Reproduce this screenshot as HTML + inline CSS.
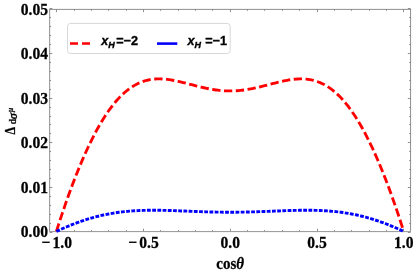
<!DOCTYPE html>
<html><head><meta charset="utf-8"><title>plot</title>
<style>
html,body{margin:0;padding:0;background:#fff;}
body{width:413px;height:273px;overflow:hidden;}
svg{display:block;will-change:transform;}
.t text{font-family:"Liberation Serif",serif;font-weight:bold;font-size:15.6px;fill:#000;stroke:#000;stroke-width:0.25px;}
.lg{font-family:"Liberation Sans",sans-serif;font-weight:bold;font-size:12.6px;fill:#000;stroke:#000;stroke-width:0.35px;}
</style></head><body>
<svg width="413" height="273" viewBox="0 0 413 273">
<rect x="0" y="0" width="413" height="273" fill="#fff"/>
<g stroke="#858585" stroke-width="0.9" fill="none">
<line x1="56.50" y1="231.4" x2="56.50" y2="228.70"/>
<line x1="56.50" y1="9.4" x2="56.50" y2="12.10"/>
<line x1="74.50" y1="231.4" x2="74.50" y2="230.00"/>
<line x1="74.50" y1="9.4" x2="74.50" y2="10.80"/>
<line x1="91.50" y1="231.4" x2="91.50" y2="230.00"/>
<line x1="91.50" y1="9.4" x2="91.50" y2="10.80"/>
<line x1="108.50" y1="231.4" x2="108.50" y2="230.00"/>
<line x1="108.50" y1="9.4" x2="108.50" y2="10.80"/>
<line x1="126.50" y1="231.4" x2="126.50" y2="230.00"/>
<line x1="126.50" y1="9.4" x2="126.50" y2="10.80"/>
<line x1="143.50" y1="231.4" x2="143.50" y2="228.70"/>
<line x1="143.50" y1="9.4" x2="143.50" y2="12.10"/>
<line x1="160.50" y1="231.4" x2="160.50" y2="230.00"/>
<line x1="160.50" y1="9.4" x2="160.50" y2="10.80"/>
<line x1="178.50" y1="231.4" x2="178.50" y2="230.00"/>
<line x1="178.50" y1="9.4" x2="178.50" y2="10.80"/>
<line x1="195.50" y1="231.4" x2="195.50" y2="230.00"/>
<line x1="195.50" y1="9.4" x2="195.50" y2="10.80"/>
<line x1="212.50" y1="231.4" x2="212.50" y2="230.00"/>
<line x1="212.50" y1="9.4" x2="212.50" y2="10.80"/>
<line x1="230.50" y1="231.4" x2="230.50" y2="228.70"/>
<line x1="230.50" y1="9.4" x2="230.50" y2="12.10"/>
<line x1="247.50" y1="231.4" x2="247.50" y2="230.00"/>
<line x1="247.50" y1="9.4" x2="247.50" y2="10.80"/>
<line x1="264.50" y1="231.4" x2="264.50" y2="230.00"/>
<line x1="264.50" y1="9.4" x2="264.50" y2="10.80"/>
<line x1="282.50" y1="231.4" x2="282.50" y2="230.00"/>
<line x1="282.50" y1="9.4" x2="282.50" y2="10.80"/>
<line x1="299.50" y1="231.4" x2="299.50" y2="230.00"/>
<line x1="299.50" y1="9.4" x2="299.50" y2="10.80"/>
<line x1="317.50" y1="231.4" x2="317.50" y2="228.70"/>
<line x1="317.50" y1="9.4" x2="317.50" y2="12.10"/>
<line x1="334.50" y1="231.4" x2="334.50" y2="230.00"/>
<line x1="334.50" y1="9.4" x2="334.50" y2="10.80"/>
<line x1="351.50" y1="231.4" x2="351.50" y2="230.00"/>
<line x1="351.50" y1="9.4" x2="351.50" y2="10.80"/>
<line x1="369.50" y1="231.4" x2="369.50" y2="230.00"/>
<line x1="369.50" y1="9.4" x2="369.50" y2="10.80"/>
<line x1="386.50" y1="231.4" x2="386.50" y2="230.00"/>
<line x1="386.50" y1="9.4" x2="386.50" y2="10.80"/>
<line x1="403.50" y1="231.4" x2="403.50" y2="228.70"/>
<line x1="403.50" y1="9.4" x2="403.50" y2="12.10"/>
<line x1="49.65" y1="232.50" x2="52.35" y2="232.50"/>
<line x1="410.55" y1="232.50" x2="407.85" y2="232.50"/>
<line x1="49.65" y1="223.50" x2="51.05" y2="223.50"/>
<line x1="410.55" y1="223.50" x2="409.15" y2="223.50"/>
<line x1="49.65" y1="214.50" x2="51.05" y2="214.50"/>
<line x1="410.55" y1="214.50" x2="409.15" y2="214.50"/>
<line x1="49.65" y1="205.50" x2="51.05" y2="205.50"/>
<line x1="410.55" y1="205.50" x2="409.15" y2="205.50"/>
<line x1="49.65" y1="196.50" x2="51.05" y2="196.50"/>
<line x1="410.55" y1="196.50" x2="409.15" y2="196.50"/>
<line x1="49.65" y1="187.50" x2="52.35" y2="187.50"/>
<line x1="410.55" y1="187.50" x2="407.85" y2="187.50"/>
<line x1="49.65" y1="178.50" x2="51.05" y2="178.50"/>
<line x1="410.55" y1="178.50" x2="409.15" y2="178.50"/>
<line x1="49.65" y1="169.50" x2="51.05" y2="169.50"/>
<line x1="410.55" y1="169.50" x2="409.15" y2="169.50"/>
<line x1="49.65" y1="160.50" x2="51.05" y2="160.50"/>
<line x1="410.55" y1="160.50" x2="409.15" y2="160.50"/>
<line x1="49.65" y1="151.50" x2="51.05" y2="151.50"/>
<line x1="410.55" y1="151.50" x2="409.15" y2="151.50"/>
<line x1="49.65" y1="142.50" x2="52.35" y2="142.50"/>
<line x1="410.55" y1="142.50" x2="407.85" y2="142.50"/>
<line x1="49.65" y1="133.50" x2="51.05" y2="133.50"/>
<line x1="410.55" y1="133.50" x2="409.15" y2="133.50"/>
<line x1="49.65" y1="124.50" x2="51.05" y2="124.50"/>
<line x1="410.55" y1="124.50" x2="409.15" y2="124.50"/>
<line x1="49.65" y1="116.50" x2="51.05" y2="116.50"/>
<line x1="410.55" y1="116.50" x2="409.15" y2="116.50"/>
<line x1="49.65" y1="107.50" x2="51.05" y2="107.50"/>
<line x1="410.55" y1="107.50" x2="409.15" y2="107.50"/>
<line x1="49.65" y1="98.50" x2="52.35" y2="98.50"/>
<line x1="410.55" y1="98.50" x2="407.85" y2="98.50"/>
<line x1="49.65" y1="89.50" x2="51.05" y2="89.50"/>
<line x1="410.55" y1="89.50" x2="409.15" y2="89.50"/>
<line x1="49.65" y1="80.50" x2="51.05" y2="80.50"/>
<line x1="410.55" y1="80.50" x2="409.15" y2="80.50"/>
<line x1="49.65" y1="71.50" x2="51.05" y2="71.50"/>
<line x1="410.55" y1="71.50" x2="409.15" y2="71.50"/>
<line x1="49.65" y1="62.50" x2="51.05" y2="62.50"/>
<line x1="410.55" y1="62.50" x2="409.15" y2="62.50"/>
<line x1="49.65" y1="53.50" x2="52.35" y2="53.50"/>
<line x1="410.55" y1="53.50" x2="407.85" y2="53.50"/>
<line x1="49.65" y1="44.50" x2="51.05" y2="44.50"/>
<line x1="410.55" y1="44.50" x2="409.15" y2="44.50"/>
<line x1="49.65" y1="35.50" x2="51.05" y2="35.50"/>
<line x1="410.55" y1="35.50" x2="409.15" y2="35.50"/>
<line x1="49.65" y1="26.50" x2="51.05" y2="26.50"/>
<line x1="410.55" y1="26.50" x2="409.15" y2="26.50"/>
<line x1="49.65" y1="17.50" x2="51.05" y2="17.50"/>
<line x1="410.55" y1="17.50" x2="409.15" y2="17.50"/>
<line x1="49.65" y1="8.50" x2="52.35" y2="8.50"/>
<line x1="410.55" y1="8.50" x2="407.85" y2="8.50"/>
</g>
<g stroke="#727272" stroke-width="0.8" fill="none"><path d="M49.15,9.4 H411.05"/><path d="M49.65,9.4 V231.4"/><path d="M410.55,9.4 V231.4"/><path d="M49.25,231.6 H410.95" stroke="#969696" stroke-width="1"/></g>
<path d="M56.40,231.40 L58.14,225.94 L59.87,220.59 L61.61,215.33 L63.34,210.17 L65.08,205.11 L66.81,200.15 L68.55,195.28 L70.28,190.52 L72.02,185.85 L73.75,181.27 L75.49,176.80 L77.22,172.42 L78.96,168.15 L80.69,163.97 L82.43,159.89 L84.16,155.91 L85.90,152.03 L87.63,148.26 L89.37,144.59 L91.10,141.02 L92.84,137.55 L94.57,134.19 L96.31,130.93 L98.04,127.77 L99.78,124.73 L101.52,121.78 L103.25,118.94 L104.99,116.21 L106.72,113.58 L108.46,111.06 L110.19,108.64 L111.93,106.33 L113.66,104.12 L115.40,102.01 L117.13,100.01 L118.87,98.11 L120.60,96.31 L122.34,94.60 L124.07,93.00 L125.81,91.50 L127.54,90.09 L129.28,88.77 L131.01,87.55 L132.75,86.42 L134.48,85.37 L136.22,84.42 L137.95,83.55 L139.69,82.76 L141.42,82.05 L143.16,81.43 L144.90,80.87 L146.63,80.40 L148.37,79.99 L150.10,79.65 L151.84,79.38 L153.57,79.17 L155.31,79.02 L157.04,78.93 L158.78,78.89 L160.51,78.91 L162.25,78.97 L163.98,79.09 L165.72,79.24 L167.45,79.43 L169.19,79.67 L170.92,79.93 L172.66,80.23 L174.39,80.55 L176.13,80.90 L177.86,81.28 L179.60,81.67 L181.33,82.08 L183.07,82.51 L184.80,82.94 L186.54,83.39 L188.28,83.84 L190.01,84.29 L191.75,84.74 L193.48,85.20 L195.22,85.64 L196.95,86.09 L198.69,86.52 L200.42,86.94 L202.16,87.35 L203.89,87.75 L205.63,88.13 L207.36,88.49 L209.10,88.83 L210.83,89.15 L212.57,89.45 L214.30,89.72 L216.04,89.97 L217.77,90.19 L219.51,90.39 L221.24,90.55 L222.98,90.69 L224.71,90.80 L226.45,90.88 L228.18,90.92 L229.92,90.94 L231.65,90.93 L233.39,90.88 L235.13,90.81 L236.86,90.71 L238.60,90.57 L240.33,90.41 L242.07,90.22 L243.80,90.00 L245.54,89.76 L247.27,89.49 L249.01,89.20 L250.74,88.88 L252.48,88.54 L254.21,88.18 L255.95,87.81 L257.68,87.41 L259.42,87.01 L261.15,86.58 L262.89,86.15 L264.62,85.71 L266.36,85.26 L268.09,84.81 L269.83,84.36 L271.56,83.90 L273.30,83.45 L275.03,83.01 L276.77,82.57 L278.51,82.14 L280.24,81.73 L281.98,81.34 L283.71,80.96 L285.45,80.60 L287.18,80.28 L288.92,79.97 L290.65,79.70 L292.39,79.47 L294.12,79.27 L295.86,79.11 L297.59,78.99 L299.33,78.92 L301.06,78.89 L302.80,78.92 L304.53,79.00 L306.27,79.14 L308.00,79.34 L309.74,79.61 L311.47,79.93 L313.21,80.33 L314.94,80.80 L316.68,81.34 L318.41,81.96 L320.15,82.65 L321.89,83.42 L323.62,84.28 L325.36,85.22 L327.09,86.25 L328.83,87.37 L330.56,88.58 L332.30,89.88 L334.03,91.28 L335.77,92.77 L337.50,94.36 L339.24,96.04 L340.97,97.83 L342.71,99.72 L344.44,101.71 L346.18,103.80 L347.91,105.99 L349.65,108.29 L351.38,110.69 L353.12,113.20 L354.85,115.81 L356.59,118.53 L358.32,121.35 L360.06,124.28 L361.79,127.31 L363.53,130.45 L365.27,133.69 L367.00,137.04 L368.74,140.49 L370.47,144.04 L372.21,147.70 L373.94,151.46 L375.68,155.32 L377.41,159.29 L379.15,163.35 L380.88,167.51 L382.62,171.78 L384.35,176.14 L386.09,180.60 L387.82,185.15 L389.56,189.81 L391.29,194.56 L393.03,199.41 L394.76,204.36 L396.50,209.41 L398.23,214.55 L399.97,219.79 L401.70,225.13 L403.44,230.57" fill="none" stroke="#ff0000" stroke-width="2.85" stroke-dasharray="8.32,3.51" stroke-dashoffset="0"/>
<path d="M56.40,231.40 L58.14,230.60 L59.87,229.81 L61.61,229.03 L63.35,228.27 L65.08,227.52 L66.82,226.78 L68.56,226.06 L70.29,225.35 L72.03,224.65 L73.77,223.98 L75.50,223.31 L77.24,222.67 L78.97,222.04 L80.71,221.43 L82.45,220.83 L84.18,220.25 L85.92,219.69 L87.66,219.14 L89.39,218.62 L91.13,218.11 L92.87,217.62 L94.60,217.14 L96.34,216.69 L98.08,216.25 L99.81,215.82 L101.55,215.42 L103.29,215.03 L105.02,214.66 L106.76,214.31 L108.50,213.98 L110.23,213.66 L111.97,213.35 L113.70,213.07 L115.44,212.80 L117.18,212.54 L118.91,212.30 L120.65,212.08 L122.39,211.87 L124.12,211.68 L125.86,211.50 L127.60,211.33 L129.33,211.18 L131.07,211.04 L132.81,210.91 L134.54,210.80 L136.28,210.70 L138.02,210.61 L139.75,210.53 L141.49,210.46 L143.23,210.40 L144.96,210.35 L146.70,210.31 L148.43,210.29 L150.17,210.27 L151.91,210.25 L153.64,210.25 L155.38,210.25 L157.12,210.26 L158.85,210.28 L160.59,210.31 L162.33,210.34 L164.06,210.37 L165.80,210.41 L167.54,210.45 L169.27,210.50 L171.01,210.56 L172.75,210.61 L174.48,210.67 L176.22,210.73 L177.96,210.79 L179.69,210.86 L181.43,210.93 L183.16,210.99 L184.90,211.06 L186.64,211.13 L188.37,211.20 L190.11,211.27 L191.85,211.34 L193.58,211.41 L195.32,211.47 L197.06,211.54 L198.79,211.60 L200.53,211.66 L202.27,211.72 L204.00,211.78 L205.74,211.83 L207.48,211.88 L209.21,211.93 L210.95,211.98 L212.69,212.02 L214.42,212.06 L216.16,212.09 L217.89,212.12 L219.63,212.15 L221.37,212.17 L223.10,212.19 L224.84,212.20 L226.58,212.22 L228.31,212.22 L230.05,212.22 L231.79,212.22 L233.52,212.22 L235.26,212.20 L237.00,212.19 L238.73,212.17 L240.47,212.15 L242.21,212.12 L243.94,212.09 L245.68,212.06 L247.42,212.02 L249.15,211.98 L250.89,211.93 L252.62,211.88 L254.36,211.83 L256.10,211.78 L257.83,211.72 L259.57,211.66 L261.31,211.60 L263.04,211.54 L264.78,211.47 L266.52,211.41 L268.25,211.34 L269.99,211.27 L271.73,211.20 L273.46,211.13 L275.20,211.06 L276.94,210.99 L278.67,210.93 L280.41,210.86 L282.15,210.79 L283.88,210.73 L285.62,210.67 L287.35,210.61 L289.09,210.56 L290.83,210.50 L292.56,210.45 L294.30,210.41 L296.04,210.37 L297.77,210.34 L299.51,210.31 L301.25,210.28 L302.98,210.26 L304.72,210.25 L306.46,210.25 L308.19,210.25 L309.93,210.27 L311.67,210.29 L313.40,210.31 L315.14,210.35 L316.88,210.40 L318.61,210.46 L320.35,210.53 L322.08,210.61 L323.82,210.70 L325.56,210.80 L327.29,210.91 L329.03,211.04 L330.77,211.18 L332.50,211.33 L334.24,211.50 L335.98,211.68 L337.71,211.87 L339.45,212.08 L341.19,212.30 L342.92,212.54 L344.66,212.80 L346.40,213.07 L348.13,213.35 L349.87,213.66 L351.61,213.98 L353.34,214.31 L355.08,214.66 L356.81,215.03 L358.55,215.42 L360.29,215.82 L362.02,216.25 L363.76,216.69 L365.50,217.14 L367.23,217.62 L368.97,218.11 L370.71,218.62 L372.44,219.14 L374.18,219.69 L375.92,220.25 L377.65,220.83 L379.39,221.43 L381.13,222.04 L382.86,222.67 L384.60,223.31 L386.34,223.98 L388.07,224.65 L389.81,225.35 L391.54,226.06 L393.28,226.78 L395.02,227.52 L396.75,228.27 L398.49,229.03 L400.23,229.81 L401.96,230.60 L403.70,231.40" fill="none" stroke="#0000ff" stroke-width="2.9" stroke-dasharray="3.8,1.41"/>
<g class="t">
<text transform="translate(56.70,247.9) scale(1,1.09)" text-anchor="middle">−<tspan dx="2.1">1.0</tspan></text>
<text transform="translate(143.45,247.9) scale(1,1.09)" text-anchor="middle">−<tspan dx="2.1">0.5</tspan></text>
<text transform="translate(230.20,247.9) scale(1,1.09)" text-anchor="middle">0.0</text>
<text transform="translate(316.95,247.9) scale(1,1.09)" text-anchor="middle">0.5</text>
<text transform="translate(403.70,247.9) scale(1,1.09)" text-anchor="middle">1.0</text>
<text transform="translate(48.1,237.00) scale(1,1.09)" text-anchor="end">0.00</text>
<text transform="translate(48.1,192.60) scale(1,1.09)" text-anchor="end">0.01</text>
<text transform="translate(48.1,148.20) scale(1,1.09)" text-anchor="end">0.02</text>
<text transform="translate(48.1,103.80) scale(1,1.09)" text-anchor="end">0.03</text>
<text transform="translate(48.1,59.40) scale(1,1.09)" text-anchor="end">0.04</text>
<text transform="translate(48.1,15.00) scale(1,1.09)" text-anchor="end">0.05</text>
<text transform="translate(230.2,268.9) scale(1,1.05)" text-anchor="middle" style="font-size:15px">cos<tspan font-style="italic">θ</tspan></text>
<g transform="translate(14.6,134.4) rotate(-90)"><text x="0" y="0" transform="scale(0.77,1)">Δ</text><text x="0" y="1.4" transform="translate(10.1,0) scale(0.93,1)" style="font-size:10.3px">d</text><text x="15.1" y="1.9" style="font-size:11.8px;font-style:italic">σ</text><text x="22.5" y="-2.0" style="font-size:7.6px;font-style:italic">μ</text></g>
</g>
<rect x="67.5" y="23.4" width="162.7" height="30.1" rx="3" ry="3" fill="#fff" stroke="#d4d4d4" stroke-width="0.9"/>
<path d="M70,43.6 H90" stroke="#ff0000" stroke-width="2.5" stroke-dasharray="8,4" fill="none"/>
<path d="M157,43.6 H177.3" stroke="#0000ff" stroke-width="2.6" fill="none"/>
<text class="lg" x="101.2" y="45"><tspan font-style="italic">x</tspan><tspan font-style="italic" font-size="9px" dy="3.3">H</tspan><tspan dy="-3.3" dx="1.5">=−2</tspan></text>
<text class="lg" x="187.6" y="45"><tspan font-style="italic">x</tspan><tspan font-style="italic" font-size="9px" dy="3.3">H</tspan><tspan dy="-3.3" dx="4.1">=−1</tspan></text>
</svg>
</body></html>
